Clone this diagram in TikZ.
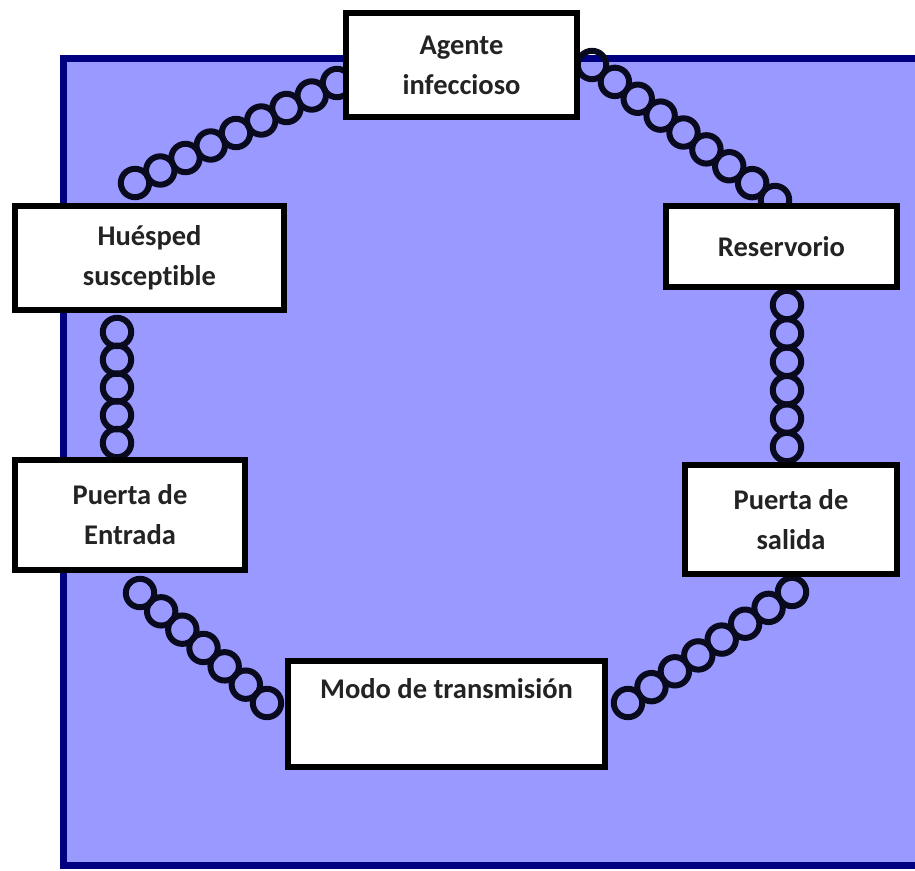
\documentclass[tikz,border=0pt]{standalone}
\usepackage{fontspec}
\setmainfont{Carlito}[Ligatures=NoCommon]
\usetikzlibrary{calc}
\definecolor{bgblue}{RGB}{153,153,255}
\definecolor{navyedge}{RGB}{0,0,128}
\definecolor{ringc}{RGB}{10,10,30}
\definecolor{txtc}{RGB}{35,35,35}
\newcommand\ringchain[3]{\foreach \k in {0,...,#3}{\draw[ring] ($(#1)!\k/#3!(#2)$) circle[radius=14.2pt];}}
\begin{document}
\begin{tikzpicture}[x=1pt,y=-1pt,
  box/.style={draw=black, line width=6.5pt, fill=white, rectangle, inner sep=0pt,
    align=center, font=\fontsize{28.5}{40}\selectfont\bfseries, text=txtc},
  ring/.style={draw=ringc, line width=6pt}]
\clip (0,0) rectangle (915,870);
\fill[white] (0,0) rectangle (915,870);
\draw[fill=bgblue, draw=navyedge, line width=7pt] (63.5,58) rectangle (940,865);

% chain end points
\coordinate (c1a) at (135,183);
\coordinate (c1b) at (337,83);
\coordinate (c2a) at (592,65);
\coordinate (c2b) at (775,200);
\coordinate (c3a) at (787,305);
\coordinate (c3b) at (787,447);
\coordinate (c4a) at (117,332);
\coordinate (c4b) at (117,443);
\coordinate (c5a) at (140,593);
\coordinate (c5b) at (267,703);
\coordinate (c6a) at (628,703);
\coordinate (c6b) at (792,592);

\ringchain{c1a}{c1b}{8}
\ringchain{c2a}{c2b}{8}
\ringchain{c3a}{c3b}{5}
\ringchain{c4a}{c4b}{4}
\ringchain{c5a}{c5b}{6}
\ringchain{c6a}{c6b}{7}

\node[box, minimum width=231pt, minimum height=104pt] (agente) at (461.5,65) {Agente\\infeccioso};
\node[box, minimum width=269pt, minimum height=104pt] (huesped) at (149.5,258) {Huésped\\susceptible};
\node[box, minimum width=231pt, minimum height=81pt] (reserv) at (781.5,246.5) {Reservorio};
\node[box, minimum width=230pt, minimum height=110pt] (entrada) at (130,515) {Puerta de\\Entrada};
\node[box, minimum width=212pt, minimum height=109pt] (salida) at (791,519.5) {Puerta de\\salida};
\node[box, minimum width=317pt, minimum height=106pt] (modo) at (446.5,714) {Modo de transmisión\\\strut};
\end{tikzpicture}
\end{document}
